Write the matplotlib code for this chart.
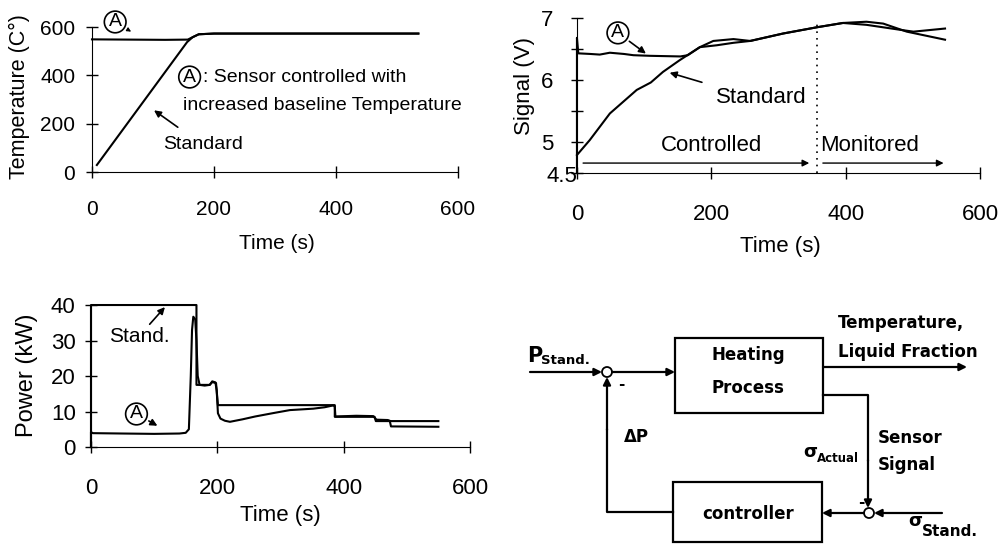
import matplotlib
matplotlib.use('Agg')
import matplotlib.pyplot as plt
from matplotlib.patches import Rectangle, Circle

plt.rcParams['font.family'] = ['Liberation Sans', 'DejaVu Sans']

# temperature (top left)
t_temp_std = [8, 156, 165, 175, 200, 535]
temp_std = [29, 538, 558, 570, 573, 573]
t_temp_a = [0, 60, 120, 157, 165, 175, 200, 535]
temp_a = [549, 548, 547, 548, 558, 570, 573, 573]

# signal (top right)
t_sig_std = [0, 19, 49, 89, 110, 128, 153, 183, 208, 233, 258, 307, 357, 396, 431, 481, 501, 548]
sig_std = [4.79, 5.03, 5.46, 5.84, 5.96, 6.13, 6.32, 6.53, 6.56, 6.60, 6.63, 6.75, 6.85, 6.92, 6.89, 6.81, 6.78, 6.83]
t_sig_a = [0, 0, 2, 20, 34, 49, 70, 84, 109, 154, 165, 183, 203, 233, 258, 307, 357, 396, 431, 456, 491, 548]
sig_a = [4.5, 6.68, 6.43, 6.42, 6.41, 6.44, 6.42, 6.40, 6.39, 6.38, 6.40, 6.53, 6.63, 6.66, 6.63, 6.75, 6.85, 6.92, 6.94, 6.91, 6.78, 6.65]

# power (bottom left)
t_pow_std = [0, 0, 167, 167, 188, 192, 198, 201, 386, 386, 449, 451, 550]
pow_std = [0, 40, 40, 17.5, 17.5, 18.3, 18, 11.8, 11.8, 8.5, 8.5, 7.3, 7.3]
t_pow_a = [0, 0, 3, 50, 100, 140, 150, 155, 158, 160, 162, 165, 167, 169, 172, 180, 188, 192, 197, 199, 201, 205,
           212, 220, 240, 260, 290, 315, 352, 370, 383, 386, 387, 420, 447, 452, 470, 473, 475, 550]
pow_a = [0, 4.2, 3.9, 3.8, 3.7, 3.8, 4.0, 5, 20, 33, 36.7, 36, 30, 20, 17.5, 17.3, 17.5, 18.5, 18.2, 16, 9.5, 8,
         7.4, 7.1, 7.8, 8.6, 9.6, 10.4, 10.8, 11.2, 11.7, 11.5, 8.6, 8.8, 8.7, 7.7, 7.6, 7.4, 5.8, 5.7]

fig = plt.figure(figsize=(10.02, 5.44), dpi=100)

# block diagram drawn in pixel coordinates on a full-figure axes
axd = fig.add_axes([0, 0, 1, 1])
axd.set_xlim(0, 1002)
axd.set_ylim(544, 0)
axd.axis('off')

lw = 1.6
axd.add_patch(Rectangle((675, 338), 148, 75, fill=False, lw=lw))
axd.add_patch(Rectangle((673, 482), 149, 60, fill=False, lw=lw))
axd.add_patch(Circle((607, 372), 5, fill=False, lw=1.3))
axd.add_patch(Circle((869, 513), 5, fill=False, lw=1.3))

arrow = dict(arrowstyle='-|>', lw=lw, color='k', shrinkA=0, shrinkB=0, mutation_scale=11)
axd.annotate('', xy=(602, 372), xytext=(530, 372), arrowprops=arrow)
axd.annotate('', xy=(675, 372), xytext=(612, 372), arrowprops=arrow)
axd.annotate('', xy=(967, 367), xytext=(823, 367), arrowprops=arrow)
axd.plot([823, 868, 868], [395, 395, 460], color='k', lw=lw)
axd.annotate('', xy=(868, 508), xytext=(868, 460), arrowprops=arrow)
axd.annotate('', xy=(874, 513), xytext=(942, 513), arrowprops=arrow)
axd.annotate('', xy=(822, 513), xytext=(864, 513), arrowprops=arrow)
axd.plot([673, 607, 607], [512, 512, 430], color='k', lw=lw)
axd.annotate('', xy=(607, 377), xytext=(607, 430), arrowprops=arrow)

bold = dict(fontweight='bold', family='DejaVu Sans')
axd.text(527, 356, 'P', fontsize=15, ha='left', va='center', **bold)
axd.text(541, 361, 'Stand.', fontsize=9.5, ha='left', va='center', **bold)
axd.text(621, 384, '-', fontsize=11, ha='center', va='center', **bold)
axd.text(748, 355, 'Heating', fontsize=12, ha='center', va='center', **bold)
axd.text(748, 388, 'Process', fontsize=12, ha='center', va='center', **bold)
axd.text(838, 323, 'Temperature,', fontsize=12, ha='left', va='center', **bold)
axd.text(838, 352, 'Liquid Fraction', fontsize=12, ha='left', va='center', **bold)
axd.text(624, 437, 'ΔP', fontsize=12, ha='left', va='center', **bold)
axd.text(810, 452, 'σ', fontsize=13, ha='center', va='center', **bold)
axd.text(817, 459, 'Actual', fontsize=8.5, ha='left', va='center', **bold)
axd.text(878, 438, 'Sensor', fontsize=12, ha='left', va='center', **bold)
axd.text(878, 465, 'Signal', fontsize=12, ha='left', va='center', **bold)
axd.text(861, 502, '-', fontsize=11, ha='center', va='center', **bold)
axd.text(748, 514, 'controller', fontsize=12, ha='center', va='center', **bold)
axd.text(915, 521, 'σ', fontsize=13, ha='center', va='center', **bold)
axd.text(922, 531, 'Stand.', fontsize=11, ha='left', va='center', **bold)


def style(ax, xpad, ypad):
    ax.spines['top'].set_visible(False)
    ax.spines['right'].set_visible(False)
    ax.tick_params(direction='inout', length=8, width=1)
    ax.tick_params(axis='x', pad=xpad)
    ax.tick_params(axis='y', pad=ypad)
    ax.set_facecolor('none')


line = dict(color='k', lw=1.5, clip_on=False)
arr = dict(arrowstyle='-|>', color='k', lw=1.2, mutation_scale=10)
circ = dict(boxstyle='circle,pad=0.12', fc='white', ec='k', lw=1.2)

# top left: temperature
ax1 = fig.add_axes([0.0918, 0.6838, 0.3653, 0.2665])
ax1.plot(t_temp_std, temp_std, **line)
ax1.plot(t_temp_a, temp_a, **line)
ax1.set_xlim(0, 600)
ax1.set_ylim(0, 600)
ax1.set_xticks([0, 200, 400, 600])
ax1.set_yticks([0, 200, 400, 600])
style(ax1, 16, 8)
ax1.tick_params(labelsize=15)
ax1.set_xlabel('Time (s)', fontsize=15, va='center')
ax1.xaxis.set_label_coords(0.505, -0.49)
ax1.set_ylabel('Temperature (C°)', fontsize=15.5, va='center')
ax1.yaxis.set_label_coords(-0.197, 0.517)
ax1.annotate('A', xy=(68, 575), xytext=(38, 621), fontsize=14, ha='center', va='center',
             bbox=circ, arrowprops=dict(arrowstyle='-|>', color='k', lw=0.8, mutation_scale=6))
ax1.text(160, 393, 'A', fontsize=14, ha='center', va='center', bbox=circ)
ax1.text(182, 393, ': Sensor controlled with', fontsize=14, ha='left', va='center')
ax1.text(149, 277, 'increased baseline Temperature', fontsize=14, ha='left', va='center')
ax1.annotate('Standard', xy=(98, 262), xytext=(116, 112), fontsize=14, ha='left', va='center',
             arrowprops=dict(arrowstyle='-|>', color='k', lw=1.2, mutation_scale=10, shrinkA=8))

# top right: signal
ax2 = fig.add_axes([0.5758, 0.6820, 0.4022, 0.2849])
ax2.plot(t_sig_std, sig_std, **line)
ax2.plot(t_sig_a, sig_a, **line)
ax2.set_xlim(0, 600)
ax2.set_ylim(4.5, 7)
ax2.set_xticks([0, 200, 400, 600])
ax2.set_yticks([4.5, 5, 5.5, 6, 6.5, 7])
ax2.set_yticklabels(['', '5', '', '6', '', '7'])
style(ax2, 18, 13)
ax2.tick_params(labelsize=16)
ax2.text(-0.01, 4.44, '4.5', fontsize=16, ha='right', va='center')
ax2.axvline(357, ymax=0.99, color='k', lw=1.2, ls=(0, (1, 3)))
ax2.annotate('', xy=(350, 4.66), xytext=(5, 4.66), arrowprops=dict(arr, lw=1.0))
ax2.annotate('', xy=(550, 4.66), xytext=(362, 4.66), arrowprops=dict(arr, lw=1.0))
ax2.text(201, 4.95, 'Controlled', fontsize=16, ha='center', va='center')
ax2.text(362, 4.95, 'Monitored', fontsize=16, ha='left', va='center')
ax2.annotate('A', xy=(106, 6.40), xytext=(61, 6.76), fontsize=14, ha='center', va='center',
             bbox=circ, arrowprops=dict(arr, shrinkA=2))
ax2.text(275, 5.71, 'Standard', fontsize=16, ha='center', va='center')
ax2.annotate('', xy=(134, 6.13), xytext=(190, 5.95), arrowprops=arr)
ax2.set_xlabel('Time (s)', fontsize=16, va='center')
ax2.xaxis.set_label_coords(0.504, -0.477)
ax2.set_ylabel('Signal (V)', fontsize=16, va='center')
ax2.yaxis.set_label_coords(-0.129, 0.56)

# bottom left: power
ax3 = fig.add_axes([0.0908, 0.1783, 0.3782, 0.2610])
ax3.plot(t_pow_std, pow_std, **line)
ax3.plot(t_pow_a, pow_a, **line)
ax3.set_xlim(0, 600)
ax3.set_ylim(0, 40)
ax3.set_xticks([0, 200, 400, 600])
ax3.set_yticks([0, 10, 20, 30, 40])
style(ax3, 18, 7)
ax3.tick_params(labelsize=16)
ax3.text(28, 31, 'Stand.', fontsize=15, ha='left', va='center')
ax3.annotate('', xy=(120, 40), xytext=(90, 34), arrowprops=arr)
ax3.annotate('A', xy=(109, 5.6), xytext=(72, 9.3), fontsize=14, ha='center', va='center',
             bbox=circ, arrowprops=dict(arr, shrinkA=2))
ax3.set_xlabel('Time (s)', fontsize=16, va='center')
ax3.xaxis.set_label_coords(0.499, -0.479)
ax3.set_ylabel('Power (kW)', fontsize=17, va='center')
ax3.yaxis.set_label_coords(-0.169, 0.507)

fig.savefig('out.png', dpi=100)
